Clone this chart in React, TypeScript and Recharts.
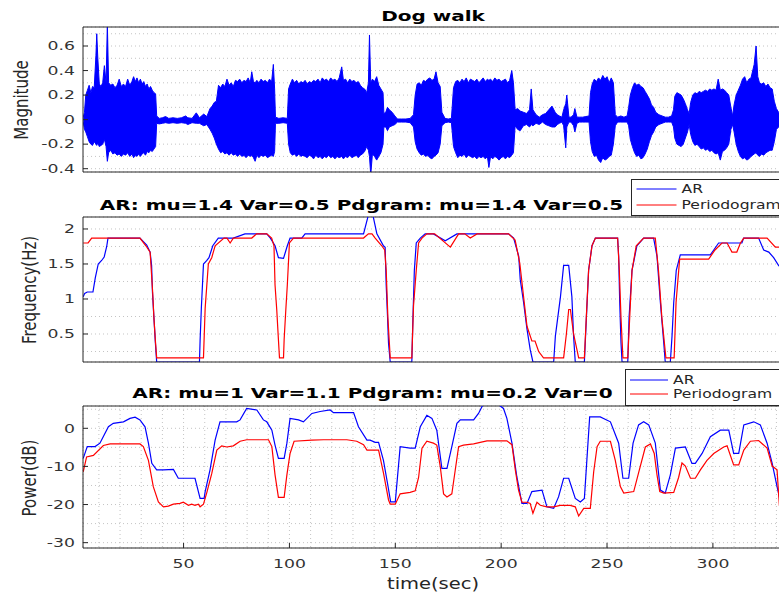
import React from 'react';
import {
  AreaChart,
  Area,
  LineChart,
  Line,
  XAxis,
  YAxis,
  CartesianGrid,
  ReferenceLine,
} from 'recharts';

const FONT = '"DejaVu Sans", Verdana, sans-serif';
// glyphs are drawn wider than normal, like the exported figure
const TICK_STRETCH = 1.5;
const TITLE_STRETCH = 1.37;
const LABEL_STRETCH = 1.3;
const AXIS = '#262626';
const TICK_TEXT = '#333333';
const GRID = '#c4c4c4';
const BLUE = '#0000ff';
const RED = '#ff0000';

const timeDomain: [number, number] = [2.5, 335];

// ---- "Dog walk" recording: upper / lower envelope of the waveform ----
const waveTime = [
  2.6, 3.2, 3.8, 4.6, 5.4, 6.2, 7.0, 7.8, 8.6, 9.0, 9.5, 10.2, 11.0, 11.8, 12.6, 13.4, 14.0, 14.6, 15.6, 16.6, 17.6, 18.6,
  19.6, 20.6, 21.6, 22.6, 23.6, 24.6, 25.6, 26.4, 27.2, 28.0, 28.8, 29.6, 30.4, 31.2, 32.0, 32.8, 33.6, 34.4, 35.2, 36.0,
  36.8, 37.3,
  38.5, 40.0, 41.5, 43.0, 45.0, 47.0, 49.0, 51.0, 52.0, 54.0, 56.0, 57.5, 59.5, 61.0,
  62.5, 63.5, 64.5, 65.5, 66.5, 67.5, 68.5, 69.5, 70.5, 71.5, 72.5, 73.5, 74.5, 75.5, 76.5, 77.5, 78.5, 79.5, 80.5, 81.5,
  82.2, 83.0, 83.8, 84.6, 85.6, 86.6, 87.6, 88.6, 89.6, 90.6, 91.6, 92.4, 93.0, 93.4,
  95.0, 97.0, 99.0,
  99.6, 100.4, 101.4, 102.4, 103.4, 104.4, 105.4, 106.4, 107.4, 108.4, 109.4, 110.4, 111.4, 112.4, 113.5, 114.5, 115.5,
  116.5, 117.5, 118.5, 119.5, 120.5, 121.5, 122.5, 123.5, 124.7, 125.5, 126.5, 127.5, 128.5, 129.5, 130.5, 131.5, 132.5,
  133.5, 134.5, 135.5, 136.5, 137.3, 137.8, 138.4, 139.2, 140.2, 141.2, 142.2, 143.2, 144.2, 144.6,
  145.5, 146.3, 147.2, 148.5, 149.8, 151.0, 153.0, 155.0, 157.0, 158.6,
  159.4, 160.3, 161.3, 162.3, 163.3, 164.3, 165.3, 166.3, 167.3, 168.3, 169.2, 170.2, 171.2, 172.0,
  173.5, 175.0, 176.5,
  177.5, 178.5, 179.5, 180.5, 181.5, 182.5, 183.5, 184.5, 185.5, 186.5, 187.5, 188.5, 189.5, 190.5, 191.5, 192.5, 193.5,
  194.2, 195.0, 196.0, 197.0, 198.0, 199.0, 200.0, 201.0, 202.0, 203.0, 204.0, 205.0, 205.8, 206.6,
  207.8, 209.0, 210.5, 212.0, 213.4, 214.2, 215.0, 216.5, 218.0, 219.5, 221.0, 222.5, 224.0, 225.5, 226.5, 227.5, 228.7,
  229.5, 230.5, 231.0, 232.0, 233.0, 234.2, 234.8, 235.8, 237.0, 238.5, 240.0, 241.5,
  242.2, 243.0, 244.0, 245.0, 246.0, 247.0, 248.0, 249.0, 250.0, 251.0, 252.0, 253.0, 253.9,
  255.0, 256.5, 258.0, 259.5, 260.2, 261.0, 262.0, 263.0, 264.0, 265.0, 266.0, 267.0, 268.0, 269.0, 270.0, 271.0, 272.0,
  273.0, 274.5, 276.0, 277.5, 279.0, 280.5,
  281.4, 282.0, 283.0, 284.0, 285.0, 286.0, 287.0, 288.0, 288.8, 289.5, 290.5, 291.5, 292.5, 293.5, 294.5, 295.5, 296.5,
  297.5, 298.5, 299.5, 300.5, 301.5, 302.5, 303.5, 304.5, 305.5, 306.5, 307.5, 308.5, 309.3, 310.0, 311.0, 312.0, 313.0,
  314.0, 315.0, 316.0, 317.0, 318.0, 319.5, 320.4, 321.2, 322.0, 323.0, 324.0, 325.0, 326.0, 327.0, 328.0, 329.0, 330.0,
  331.0, 333.0,
];
const waveUpper = [
  0.02, 0.06, 0.2, 0.24, 0.28, 0.22, 0.27, 0.26, 0.52, 0.7, 0.5, 0.29, 0.27, 0.3, 0.44, 0.3, 0.78, 0.3, 0.28, 0.29, 0.26, 0.28,
  0.33, 0.27, 0.29, 0.27, 0.33, 0.28, 0.31, 0.35, 0.31, 0.34, 0.3, 0.33, 0.29, 0.31, 0.27, 0.29, 0.25, 0.27, 0.24, 0.22,
  0.21, 0.03,
  0.01, 0.015, 0.025, 0.01, 0.015, 0.01, 0.015, 0.03, 0.015, 0.01, 0.055, 0.015, 0.045, 0.025,
  0.09, 0.11, 0.14, 0.15, 0.28, 0.26, 0.29, 0.27, 0.33, 0.28, 0.3, 0.27, 0.32, 0.31, 0.33, 0.3, 0.32, 0.31, 0.34, 0.3,
  0.39, 0.31, 0.3, 0.32, 0.3, 0.33, 0.31, 0.32, 0.3, 0.33, 0.31, 0.45, 0.25, 0.02,
  0.01, 0.015, 0.01,
  0.25, 0.29, 0.33, 0.3, 0.32, 0.29, 0.31, 0.3, 0.32, 0.29, 0.31, 0.3, 0.32, 0.31, 0.33, 0.3, 0.34,
  0.32, 0.33, 0.31, 0.34, 0.32, 0.33, 0.31, 0.34, 0.43, 0.32, 0.33, 0.3, 0.33, 0.31, 0.32, 0.3, 0.31,
  0.28, 0.26, 0.25, 0.22, 0.3, 0.69, 0.3, 0.33, 0.31, 0.35, 0.28, 0.25, 0.22, 0.05,
  0.06, 0.1, 0.08, 0.06, 0.03, 0.005, 0.005, 0.005, 0.01, 0.04,
  0.2, 0.29, 0.3, 0.28, 0.32, 0.31, 0.33, 0.34, 0.32, 0.33, 0.39, 0.3, 0.27, 0.06,
  0.01, 0.005, 0.01,
  0.26, 0.31, 0.32, 0.3, 0.33, 0.31, 0.34, 0.3, 0.33, 0.32, 0.31, 0.33, 0.3, 0.32, 0.34, 0.31, 0.33,
  0.32, 0.33, 0.31, 0.34, 0.32, 0.33, 0.31, 0.32, 0.33, 0.3, 0.32, 0.4, 0.3, 0.08,
  0.09, 0.07, 0.06, 0.05, 0.08, 0.25, 0.08, 0.04, 0.02, 0.04, 0.05, 0.08, 0.11, 0.06, 0.04, 0.03, 0.02,
  0.08, 0.13, 0.2, 0.02, 0.02, 0.04, 0.09, 0.02, 0.02, 0.02, 0.025, 0.03,
  0.22, 0.29, 0.33, 0.31, 0.34, 0.32, 0.36, 0.33, 0.35, 0.3, 0.34, 0.3, 0.04,
  0.02, 0.03, 0.02, 0.03, 0.1, 0.2, 0.26, 0.3, 0.28, 0.29, 0.27, 0.26, 0.23, 0.2, 0.17, 0.12, 0.1,
  0.06, 0.04, 0.03, 0.02, 0.02, 0.03,
  0.08, 0.19, 0.22, 0.21, 0.2, 0.17, 0.13, 0.08, 0.05, 0.14, 0.2, 0.22, 0.21, 0.23, 0.22, 0.23, 0.24,
  0.23, 0.25, 0.24, 0.25, 0.24, 0.33, 0.24, 0.25, 0.24, 0.22, 0.2, 0.1, 0.03, 0.12, 0.2, 0.24, 0.28,
  0.33, 0.35, 0.3, 0.33, 0.34, 0.45, 0.6, 0.35, 0.3, 0.29, 0.3, 0.27, 0.29, 0.26, 0.25, 0.15, 0.09,
  0.06, 0.05,
];
const waveLower = [
  -0.02, -0.08, -0.1, -0.14, -0.18, -0.2, -0.21, -0.18, -0.2, -0.21, -0.19, -0.22, -0.21, -0.2, -0.16, -0.22, -0.34, -0.27,
  -0.25, -0.28, -0.27, -0.29, -0.28, -0.3, -0.28, -0.29, -0.27, -0.3, -0.28, -0.31, -0.29, -0.3, -0.28, -0.3, -0.28, -0.27,
  -0.29, -0.26, -0.27, -0.25, -0.26, -0.24, -0.22, -0.03,
  -0.035, -0.03, -0.025, -0.03, -0.025, -0.03, -0.025, -0.03, -0.04, -0.025, -0.03, -0.03, -0.05, -0.04,
  -0.08, -0.11, -0.15, -0.2, -0.24, -0.27, -0.26, -0.28, -0.27, -0.29, -0.27, -0.29, -0.28, -0.3, -0.28, -0.3, -0.29, -0.31,
  -0.29, -0.3, -0.29, -0.31, -0.34, -0.29, -0.31, -0.29, -0.3, -0.29, -0.31, -0.3, -0.29, -0.3, -0.26, -0.03,
  -0.03, -0.025, -0.03,
  -0.2, -0.27, -0.29, -0.28, -0.3, -0.28, -0.3, -0.29, -0.3, -0.31, -0.29, -0.3, -0.32, -0.29, -0.31, -0.3, -0.32,
  -0.3, -0.31, -0.29, -0.31, -0.3, -0.32, -0.3, -0.31, -0.3, -0.32, -0.3, -0.31, -0.29, -0.31, -0.3, -0.29, -0.31,
  -0.29, -0.28, -0.26, -0.22, -0.25, -0.3, -0.45, -0.28, -0.3, -0.33, -0.3, -0.27, -0.2, -0.06,
  -0.06, -0.09, -0.06, -0.05, -0.04, -0.02, -0.02, -0.02, -0.025, -0.06,
  -0.18, -0.24, -0.27, -0.29, -0.28, -0.3, -0.29, -0.31, -0.32, -0.3, -0.29, -0.27, -0.2, -0.05,
  -0.025, -0.02, -0.025,
  -0.22, -0.27, -0.31, -0.29, -0.3, -0.28, -0.31, -0.29, -0.3, -0.31, -0.3, -0.32, -0.3, -0.31, -0.3, -0.32, -0.3,
  -0.39, -0.3, -0.32, -0.3, -0.31, -0.33, -0.31, -0.3, -0.32, -0.3, -0.31, -0.29, -0.27, -0.05,
  -0.08, -0.09, -0.05, -0.04, -0.06, -0.04, -0.05, -0.03, -0.04, -0.02, -0.04, -0.05, -0.06, -0.06, -0.04, -0.03, -0.02,
  -0.05, -0.23, -0.06, -0.02, -0.02, -0.05, -0.1, -0.03, -0.02, -0.02, -0.02, -0.02,
  -0.18, -0.26, -0.3, -0.29, -0.33, -0.35, -0.31, -0.33, -0.32, -0.3, -0.29, -0.2, -0.05,
  -0.02, -0.02, -0.02, -0.02, -0.05, -0.16, -0.22, -0.27, -0.3, -0.29, -0.32, -0.31, -0.28, -0.24, -0.18, -0.13, -0.1,
  -0.06, -0.04, -0.03, -0.02, -0.02, -0.02,
  -0.06, -0.15, -0.2, -0.21, -0.22, -0.2, -0.15, -0.1, -0.04, -0.12, -0.18, -0.21, -0.2, -0.22, -0.24, -0.23, -0.25,
  -0.24, -0.26, -0.25, -0.27, -0.28, -0.27, -0.33, -0.26, -0.25, -0.23, -0.2, -0.08, -0.04, -0.1, -0.2, -0.26, -0.3,
  -0.32, -0.31, -0.33, -0.32, -0.3, -0.28, -0.27, -0.29, -0.3, -0.28, -0.29, -0.27, -0.26, -0.25, -0.25, -0.18, -0.08,
  -0.06, -0.04,
];

// ---- dominant frequency (Hz) ----
const arFreqTime = [
  2.6, 3.3, 4.5, 7.2, 8.3, 9.7, 11.3, 12.5, 13.7, 14.3, 29.4, 32.6, 34.2, 34.9, 35.3, 36.0, 36.7, 37.3, 57.5, 57.8, 58.4,
  59.4, 61.0, 62.0, 63.8, 66.4, 73.5, 79.0, 89.3, 91.0, 93.2, 94.8, 97.2, 99.0, 100.3, 105.8, 107.4, 135.0, 137.3, 139.4,
  141.3, 144.4, 145.2, 145.7, 146.3, 146.8, 147.6, 157.8, 158.3, 159.0, 159.9, 161.8, 164.1, 168.0, 173.6, 179.1, 203.5,
  205.9, 208.3, 209.0, 210.6, 212.2, 213.7, 215.0, 224.8, 225.6, 228.0, 229.5, 231.9, 233.4, 234.2, 235.0, 239.3, 240.2,
  241.3, 242.9, 244.5, 255.0, 255.5, 256.0, 256.6, 257.1, 259.8, 260.4, 261.8, 264.1, 267.3, 272.0, 273.6, 275.2, 276.8,
  277.5, 279.9, 280.7, 281.5, 282.7, 284.6, 298.8, 300.4, 302.7, 313.7, 314.5, 321.6, 324.0, 326.4, 328.7, 331.0, 333.0,
];
const arFreq = [
  1.03, 1.08, 1.1, 1.1, 1.3, 1.5, 1.55, 1.6, 1.75, 1.87, 1.87, 1.77, 1.67, 1.48, 1.1, 0.73, 0.37, 0.1, 0.1, 0.4, 0.87,
  1.5, 1.55, 1.59, 1.76, 1.87, 1.87, 1.93, 1.93, 1.87, 1.76, 1.59, 1.58, 1.76, 1.87, 1.87, 1.93, 1.93, 2.2, 2.2,
  1.93, 1.76, 1.74, 1.2, 0.77, 0.37, 0.1, 0.1, 0.7, 1.41, 1.8, 1.87, 1.93, 1.93, 1.83, 1.93, 1.93,
  1.87, 1.61, 1.28, 0.95, 0.57, 0.28, 0.1, 0.1, 0.47, 1.03, 1.48, 1.48, 1.03, 0.47, 0.1, 0.1, 0.7,
  1.41, 1.76, 1.87, 1.87, 1.61, 0.95, 0.37, 0.1, 0.1, 0.73, 1.41, 1.76, 1.87, 1.87, 1.61, 0.95, 0.37,
  0.1, 0.1, 0.47, 0.95, 1.41, 1.63, 1.63, 1.7, 1.8, 1.8, 1.87, 1.87, 1.7, 1.67, 1.59, 1.48, 1.42,
];
const pgFreqTime = [
  2.6, 4.9, 6.6, 29.4, 32.2, 34.2, 35.4, 36.0, 36.7, 37.3, 59.4, 60.2, 61.7, 63.3, 64.9, 69.1, 70.5, 72.0, 73.5, 82.2,
  84.5, 89.3, 91.6, 92.7, 93.2, 94.0, 94.8, 95.3, 97.2, 97.5, 98.3, 99.0, 100.0, 101.9, 135.0, 137.3, 139.0, 140.5,
  143.6, 145.0, 145.7, 146.5, 147.6, 157.8, 158.6, 159.9, 161.0, 162.6, 164.9, 168.6, 176.0, 179.9, 182.8, 185.4, 188.6,
  203.5, 206.6, 208.8, 210.9, 212.2, 214.5, 216.0, 217.7, 220.0, 229.5, 230.8, 231.9, 232.7, 234.2, 236.6, 239.3, 240.2,
  241.3, 242.9, 244.5, 255.0, 255.8, 256.6, 257.5, 259.8, 260.7, 261.8, 263.8, 267.3, 272.8, 274.3, 275.9, 277.8, 281.7,
  282.6, 284.3, 298.0, 301.0, 304.3, 306.7, 309.0, 311.3, 313.0, 314.6, 325.6, 329.5, 333.0,
];
const pgFreq = [
  1.8, 1.8, 1.87, 1.87, 1.76, 1.67, 1.1, 0.73, 0.4, 0.16, 0.16, 0.87, 1.5, 1.59, 1.76, 1.87, 1.87, 1.8, 1.87, 1.87,
  1.93, 1.93, 1.87, 1.76, 1.2, 0.85, 0.42, 0.16, 0.16, 0.42, 0.85, 1.2, 1.8, 1.87, 1.87, 1.93, 1.93, 1.87,
  1.76, 1.7, 1.41, 0.73, 0.16, 0.16, 0.9, 1.41, 1.8, 1.87, 1.93, 1.93, 1.74, 1.93, 1.93, 1.87, 1.93,
  1.93, 1.84, 1.51, 0.95, 0.61, 0.4, 0.4, 0.25, 0.16, 0.16, 0.5, 0.85, 0.85, 0.5, 0.16, 0.16, 0.73,
  1.41, 1.76, 1.87, 1.87, 1.41, 0.73, 0.16, 0.16, 0.73, 1.41, 1.76, 1.87, 1.87, 1.41, 0.73, 0.16, 0.16,
  0.95, 1.57, 1.57, 1.7, 1.8, 1.8, 1.67, 1.67, 1.8, 1.87, 1.87, 1.74, 1.74,
];

// ---- power (dB) ----
const arPowerTime = [
  2.6, 4.5, 8.2, 10.5, 14.5, 16.8, 21.6, 24.7, 27.1, 29.4, 31.8, 33.4, 35.0, 37.3, 40.5, 45.2, 47.5, 55.4, 57.8, 59.7,
  60.2, 62.5, 64.9, 67.2, 75.1, 76.7, 79.8, 84.6, 87.7, 89.3, 91.7, 93.2, 94.8, 97.5, 98.8, 100.3, 104.3, 106.6, 110.6,
  114.5, 119.2, 120.8, 130.3, 132.6, 136.6, 138.1, 140.5, 142.1, 144.4, 146.5, 147.8, 150.0, 152.3, 157.0, 159.4, 161.8,
  164.9, 167.3, 169.6, 172.0, 174.4, 176.7, 179.1, 180.7, 187.0, 189.3, 191.7, 198.0, 201.1, 202.7, 205.1, 207.4, 209.8,
  212.2, 214.5, 219.3, 221.6, 224.8, 227.1, 229.5, 231.9, 235.0, 237.4, 239.3, 241.8, 246.8, 251.6, 255.5, 257.5, 260.2,
  262.3, 264.9, 267.3, 269.7, 272.8, 275.2, 277.5, 279.9, 282.3, 287.0, 290.1, 291.7, 294.9, 298.8, 303.5, 307.5, 309.8,
  312.2, 314.6, 319.3, 322.4, 325.6, 328.0, 330.3, 333.0,
];
const arPower = [
  -7.9, -4.8, -4.8, -3.9, 0.4, 1.3, 1.7, 2.6, 2.9, 2.2, 0.4, -3.9, -9.2, -10.9, -10.9, -10.8, -13.1, -13.1, -18.4, -18.4,
  -16.6, -10.9, -3.1, 1.7, 1.7, 2.2, 5.2, 4.8, 2.2, 1.7, -0.5, -4.4, -7.9, -7.9, -3.9, 2.6, 2.2, 1.7, 3.9,
  4.4, 4.8, 4.1, 4.1, 0.4, -3.1, -3.1, -3.7, -3.7, -8.4, -15, -19.3, -19.3, -4.8, -5.2, -5.2, 0.4,
  3.4, 2.6, -0.5, -10.5, -10.5, -4.8, 1.3, 2.2, 2.2, 3.9, 6.5, 6.5, 5.2, 2.6, -3.9, -12.7, -19.7,
  -19.7, -16.6, -16.2, -20.6, -21, -18, -13.1, -13.1, -18.4, -19.3, -18.4, 3.0, 3.0, 1.7, -3.9, -13.1, -13.1,
  -3.9, 0.9, 1.7, 0.9, -3.9, -16.2, -17, -12.2, -5.2, -4.9, -9.2, -9.2, -6.6, -2.2, -0.5, -0.5, -6.6,
  -6.6, 0.9, 1.7, 0.9, -3.9, -9.2, -15.3, -22,
];
const pgPowerTime = [
  2.6, 4.2, 7.4, 12.1, 15.3, 29.4, 31.0, 33.4, 35.7, 38.1, 40.5, 42.8, 45.2, 48.3, 49.9, 52.3, 53.8, 55.4, 57.0, 57.8,
  59.4, 61.0, 63.3, 65.7, 68.0, 70.4, 73.5, 76.7, 79.8, 90.1, 91.7, 93.2, 94.8, 97.5, 98.8, 100.3, 102.2, 110.6, 116.1,
  127.1, 131.8, 135.0, 136.6, 142.1, 144.4, 146.8, 147.6, 150.0, 152.3, 157.0, 159.4, 161.0, 162.6, 164.9, 168.0, 169.6,
  171.2, 172.8, 174.4, 176.7, 178.3, 179.9, 182.2, 187.0, 190.1, 193.3, 202.7, 205.1, 206.7, 208.2, 209.8, 212.2, 213.7,
  215.0, 216.9, 218.5, 221.6, 224.8, 227.9, 232.6, 235.0, 236.6, 239.0, 242.1, 243.7, 245.3, 246.8, 251.6, 253.9, 256.3,
  257.9, 262.6, 264.9, 268.1, 270.5, 272.3, 273.6, 274.9, 276.8, 281.5, 283.8, 285.4, 287.0, 289.4, 291.7, 294.1, 297.2,
  300.4, 305.1, 306.7, 309.8, 312.2, 314.6, 317.7, 321.6, 325.6, 328.0, 330.3, 331.4, 333.0,
];
const pgPower = [
  -11.4, -7.5, -7.1, -4.5, -4.1, -4.1, -4.8, -8.4, -15.3, -19.3, -20.6, -20.4, -19.9, -19.7, -19.4, -20.2, -19.9, -20.2, -19.9, -20.6,
  -19.9, -16.8, -11.9, -5.7, -4.6, -4.9, -4.6, -3.4, -3.0, -3.0, -4.8, -12.2, -18.1, -18.1, -12.2, -6.6, -3.4, -3.1, -3.0,
  -3.0, -3.4, -4.3, -5.7, -5.7, -11.7, -18.8, -19.9, -19.9, -17.2, -16.8, -16.4, -12.9, -5.2, -3.4, -3.9, -4.4,
  -9.9, -17.2, -18, -17.2, -11, -4.8, -4.4, -4.1, -3.7, -3.3, -3.3, -4.3, -11, -16.2, -19.4, -19.4, -19.7,
  -22.3, -19.4, -20.2, -20.6, -20.6, -20.2, -20.2, -20.6, -23, -21, -21, -11.4, -4.8, -3.4, -3.4, -8.4, -15.3,
  -17, -16.6, -11.7, -4.9, -4.1, -6.6, -12.2, -16.6, -17, -16.8, -12.9, -9.1, -9.9, -13.1, -13.1, -10.9, -8.4,
  -6.6, -4.9, -4.6, -9.6, -9.6, -5.7, -3.4, -3.2, -5.2, -9.9, -10.9, -20.2, -24,
];

// ---- axis ticks: grid at every tick, labels only on the major ones ----
const waveTicks = [-0.4, -0.3, -0.2, -0.1, 0, 0.1, 0.2, 0.3, 0.4, 0.5, 0.6, 0.7];
const waveLabels = [-0.4, -0.2, 0, 0.2, 0.4, 0.6];
const freqTicks = [0.25, 0.5, 0.75, 1, 1.25, 1.5, 1.75, 2];
const freqLabels = [0.5, 1, 1.5, 2];
const powerTicks = [-30, -25, -20, -15, -10, -5, 0, 5];
const powerLabels = [-30, -20, -10, 0];
const timeTicks = [10, 20, 30, 40, 50, 60, 70, 80, 90, 100, 110, 120, 130, 140, 150, 160, 170, 180, 190, 200, 210, 220, 230,
  240, 250, 260, 270, 280, 290, 300, 310, 320, 330];
const timeLabels = [50, 100, 150, 200, 250, 300];

const waveDomain: [number, number] = [-0.427, 0.755];
const freqDomain: [number, number] = [0.1, 2.171];
const powerDomain: [number, number] = [-31.4, 5.85];

const waveData = waveTime.map((t, i) => ({ t, range: [waveLower[i], waveUpper[i]] }));
const series = (ts: number[], vs: number[]) => ts.map((t, i) => ({ t, v: vs[i] }));
const arFreqData = series(arFreqTime, arFreq);
const pgFreqData = series(pgFreqTime, pgFreq);
const arPowerData = series(arPowerTime, arPower);
const pgPowerData = series(pgPowerTime, pgPower);

const makeYTick = (labels: number[]) => (props: any) => {
  const { x, y, payload } = props;
  if (!labels.includes(payload.value)) return <g />;
  return (
    <g>
      <line x1={x} y1={y} x2={x + 5} y2={y} stroke={AXIS} />
      <text
        transform={`translate(${x - 8},${y}) scale(${TICK_STRETCH},1)`}
        textAnchor="end"
        dominantBaseline="central"
        fontSize={11.5}
        fontFamily={FONT}
        fill={TICK_TEXT}
      >
        {String(payload.value)}
      </text>
    </g>
  );
};

const timeTick = (props: any) => {
  const { x, y, payload } = props;
  if (!timeLabels.includes(payload.value)) return <g />;
  return (
    <g>
      <line x1={x} y1={y} x2={x} y2={y - 5} stroke={AXIS} />
      <text
        transform={`translate(${x},${y + 20}) scale(${TICK_STRETCH},1)`}
        textAnchor="middle"
        fontSize={11.5}
        fontFamily={FONT}
        fill={TICK_TEXT}
      >
        {String(payload.value)}
      </text>
    </g>
  );
};

interface TxtProps {
  x: number;
  y: number;
  size: number;
  stretch: number;
  bold?: boolean;
  rotate?: boolean;
  fill?: string;
  children: React.ReactNode;
}

function Txt({ x, y, size, stretch, bold, rotate, fill = AXIS, children }: TxtProps) {
  return (
    <text
      transform={`translate(${x},${y}) scale(${stretch},1)${rotate ? ' rotate(-90)' : ''}`}
      textAnchor="middle"
      dominantBaseline={rotate ? 'central' : 'auto'}
      fontSize={size}
      fontWeight={bold ? 'bold' : 'normal'}
      fontFamily={FONT}
      fill={fill}
    >
      {children}
    </text>
  );
}

interface LegendBoxProps {
  x: number;
  y: number;
  lineX: [number, number];
  textX: number;
  rowA: number;
  rowB: number;
}

function LegendBox({ x, y, lineX, textX, rowA, rowB }: LegendBoxProps) {
  const label = (row: number, text: string) => (
    <text
      transform={`translate(${textX},${row}) scale(${LABEL_STRETCH},1)`}
      fontSize={12}
      fontFamily={FONT}
      fill={AXIS}
      dominantBaseline="central"
    >
      {text}
    </text>
  );
  return (
    <g>
      <rect x={x} y={y} width={220} height={36} fill="#fff" stroke={AXIS} strokeWidth={1} />
      <line x1={lineX[0]} y1={rowA} x2={lineX[1]} y2={rowA} stroke={BLUE} strokeWidth={1} />
      <line x1={lineX[0]} y1={rowB} x2={lineX[1]} y2={rowB} stroke={RED} strokeWidth={1} />
      {label(rowA, 'AR')}
      {label(rowB, 'Periodogram')}
    </g>
  );
}

export default function App() {
  return (
    <div
      style={{
        position: 'absolute',
        left: 0,
        top: 0,
        width: 779,
        height: 596,
        overflow: 'hidden',
        background: '#fff',
        fontFamily: FONT,
      }}
    >
      {/* waveform */}
      <div style={{ position: 'absolute', left: 0, top: 0 }}>
        <AreaChart width={800} height={180} data={waveData} margin={{ top: 27, right: 13, bottom: 7, left: 0 }}>
          <CartesianGrid vertical={false} stroke={GRID} strokeDasharray="1 3" />
          <XAxis type="number" dataKey="t" domain={timeDomain} allowDataOverflow tick={false} tickLine={false} height={1} stroke={AXIS} />
          <YAxis
            type="number"
            domain={waveDomain}
            allowDataOverflow
            ticks={waveTicks}
            interval={0}
            tick={makeYTick(waveLabels)}
            tickLine={false}
            tickSize={0}
            tickMargin={0}
            width={83}
            stroke={AXIS}
          />
          <ReferenceLine y={waveDomain[1]} stroke={AXIS} />
          <Area
            type="linear"
            dataKey="range"
            stroke={BLUE}
            strokeWidth={1}
            fill={BLUE}
            fillOpacity={1}
            dot={false}
            activeDot={false}
            isAnimationActive={false}
          />
        </AreaChart>
      </div>

      {/* frequency */}
      <div style={{ position: 'absolute', left: 0, top: 190 }}>
        <LineChart width={800} height={180} margin={{ top: 27, right: 13, bottom: 7, left: 0 }}>
          <CartesianGrid vertical={false} stroke={GRID} strokeDasharray="1 3" />
          <XAxis type="number" dataKey="t" domain={timeDomain} allowDataOverflow tick={false} tickLine={false} height={1} stroke={AXIS} />
          <YAxis
            type="number"
            domain={freqDomain}
            allowDataOverflow
            ticks={freqTicks}
            interval={0}
            tick={makeYTick(freqLabels)}
            tickLine={false}
            tickSize={0}
            tickMargin={0}
            width={83}
            stroke={AXIS}
          />
          <ReferenceLine y={freqDomain[1]} stroke={AXIS} />
          <Line data={arFreqData} dataKey="v" type="linear" stroke={BLUE} strokeWidth={1.2} dot={false} activeDot={false} isAnimationActive={false} />
          <Line data={pgFreqData} dataKey="v" type="linear" stroke={RED} strokeWidth={1.2} dot={false} activeDot={false} isAnimationActive={false} />
        </LineChart>
      </div>

      {/* power */}
      <div style={{ position: 'absolute', left: 0, top: 380 }}>
        <LineChart width={800} height={216} margin={{ top: 26, right: 13, bottom: 47, left: 0 }}>
          <CartesianGrid stroke={GRID} strokeDasharray="1 3" />
          <XAxis
            type="number"
            dataKey="t"
            domain={timeDomain}
            allowDataOverflow
            ticks={timeTicks}
            interval={0}
            tick={timeTick}
            tickLine={false}
            tickSize={0}
            tickMargin={0}
            height={1}
            stroke={AXIS}
          />
          <YAxis
            type="number"
            domain={powerDomain}
            allowDataOverflow
            ticks={powerTicks}
            interval={0}
            tick={makeYTick(powerLabels)}
            tickLine={false}
            tickSize={0}
            tickMargin={0}
            width={83}
            stroke={AXIS}
          />
          <ReferenceLine y={powerDomain[1]} stroke={AXIS} />
          <Line data={arPowerData} dataKey="v" type="linear" stroke={BLUE} strokeWidth={1.2} dot={false} activeDot={false} isAnimationActive={false} />
          <Line data={pgPowerData} dataKey="v" type="linear" stroke={RED} strokeWidth={1.2} dot={false} activeDot={false} isAnimationActive={false} />
        </LineChart>
      </div>

      {/* titles, axis labels and legends */}
      <svg width={779} height={596} style={{ position: 'absolute', left: 0, top: 0, pointerEvents: 'none' }}>
        <Txt x={433} y={21} size={14.6} stretch={TITLE_STRETCH} bold fill="#000">Dog walk</Txt>
        <Txt x={361.5} y={210} size={14.6} stretch={TITLE_STRETCH} bold fill="#000">AR: mu=1.4 Var=0.5 Pdgram: mu=1.4 Var=0.5</Txt>
        <Txt x={372.5} y={398} size={14.6} stretch={TITLE_STRETCH} bold fill="#000">AR: mu=1 Var=1.1 Pdgram: mu=0.2 Var=0</Txt>

        <Txt x={21} y={100} size={15} stretch={LABEL_STRETCH} rotate>Magnitude</Txt>
        <Txt x={29} y={290} size={15} stretch={LABEL_STRETCH} rotate>Frequency(Hz)</Txt>
        <Txt x={29} y={478} size={15} stretch={LABEL_STRETCH} rotate>Power(dB)</Txt>
        <Txt x={433} y={589} size={15} stretch={LABEL_STRETCH}>time(sec)</Txt>

        <LegendBox x={631.5} y={179.5} lineX={[636.5, 676.5]} textX={681.5} rowA={189} rowB={205} />
        <LegendBox x={625.5} y={369.5} lineX={[630, 668]} textX={673} rowA={380} rowB={394} />
      </svg>
    </div>
  );
}
